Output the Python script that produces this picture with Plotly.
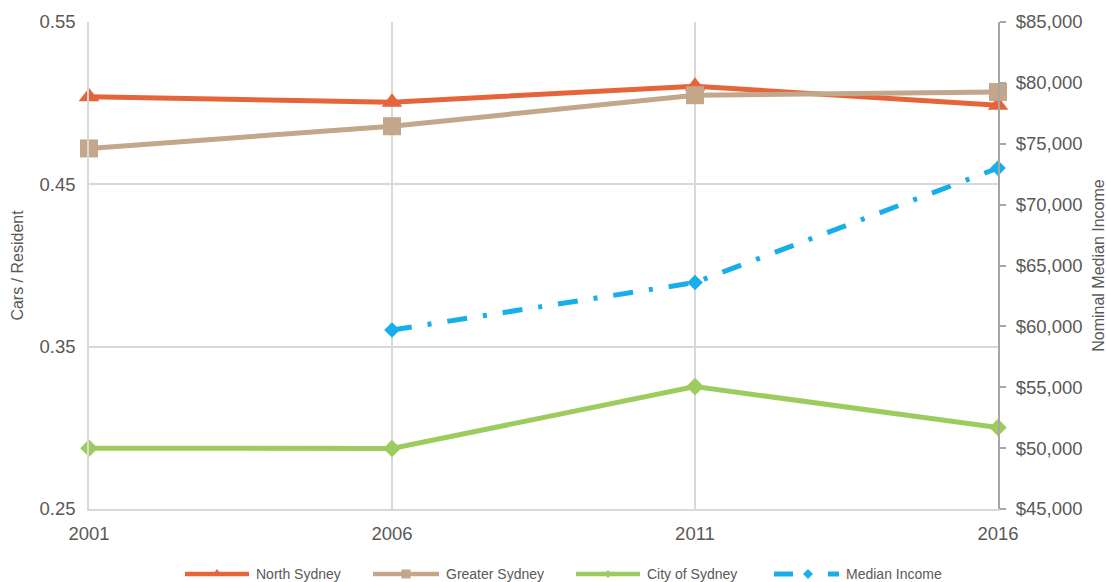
import plotly.graph_objects as go

# Census years
years = [2001, 2006, 2011, 2016]

# Cars per resident
north_sydney = [0.504, 0.5006, 0.5104, 0.4987]
greater_sydney = [0.4721, 0.4858, 0.5049, 0.5069]
city_of_sydney = [0.2875, 0.2873, 0.3254, 0.3002]

# Nominal median income (no figure for 2001)
median_income = [None, 59700, 63600, 73000]

left_ticks = [0.25, 0.35, 0.45, 0.55]
right_ticks = [45000, 50000, 55000, 60000, 65000, 70000, 75000, 80000, 85000]
right_labels = ["${:,}".format(v) for v in right_ticks]

series_names = ["North Sydney", "Greater Sydney", "City of Sydney", "Median Income"]

C_NORTH = "#E5643A"
C_GREATER = "#C4A68B"
C_CITY = "#9DCB5E"
C_INCOME = "#18AEEA"
TXT = "#595959"
FONT = "Arial, Liberation Sans, sans-serif"

W, H = 1107, 582
ML, MR, MT, MB = 89, 109, 22, 73
PW, PH = W - ML - MR, H - MT - MB


def px_x(px):
    return (px - ML) / PW


def px_y(py):
    return (H - MB - py) / PH


fig = go.Figure()

fig.add_trace(go.Scatter(
    x=years, y=north_sydney, name=series_names[0], mode="lines+markers",
    line=dict(color=C_NORTH, width=5), cliponaxis=False,
    marker=dict(symbol="triangle-up", size=18, color=C_NORTH),
))
fig.add_trace(go.Scatter(
    x=years, y=greater_sydney, name=series_names[1], mode="lines+markers",
    line=dict(color=C_GREATER, width=5), cliponaxis=False,
    marker=dict(symbol="square", size=18, color=C_GREATER),
))
fig.add_trace(go.Scatter(
    x=years, y=city_of_sydney, name=series_names[2], mode="lines+markers",
    line=dict(color=C_CITY, width=5), cliponaxis=False,
    marker=dict(symbol="diamond", size=13.5, color=C_CITY),
))
fig.add_trace(go.Scatter(
    x=years, y=median_income, name=series_names[3], mode="lines+markers",
    yaxis="y2", connectgaps=False, cliponaxis=False,
    line=dict(color=C_INCOME, width=5, dash="20px,16px,4px,16px"),
    marker=dict(symbol="diamond", size=12, color=C_INCOME),
))

# Legend row along the bottom: line sample, small marker, label
shapes = []
annotations = []
LEG_Y = 574
legend_items = [
    (series_names[0], C_NORTH, 185, 249, "triangle"),
    (series_names[1], C_GREATER, 373, 439, "square"),
    (series_names[2], C_CITY, 576, 640, "diamond"),
    (series_names[3], C_INCOME, 774, 839, "dashed"),
]
marker_paths = {
    "triangle": "M-5,-2 L5,-2 L0,5 Z",
    "square": "M-4.5,-4.5 L4.5,-4.5 L4.5,4.5 L-4.5,4.5 Z",
    "diamond": "M0,-4 L4,0 L0,4 L-4,0 Z",
    "dashed": "M0,-5 L5,0 L0,5 L-5,0 Z",
}
for name, color, x0, x1, kind in legend_items:
    mid = (x0 + x1) / 2
    if kind == "dashed":
        for a, b in [(x0, x0 + 19), (x1 - 11, x1)]:
            shapes.append(dict(type="line", xref="paper", yref="paper",
                               x0=px_x(a), x1=px_x(b), y0=px_y(LEG_Y), y1=px_y(LEG_Y),
                               line=dict(color=color, width=5)))
        mid = 808
    else:
        shapes.append(dict(type="line", xref="paper", yref="paper",
                           x0=px_x(x0), x1=px_x(x1), y0=px_y(LEG_Y), y1=px_y(LEG_Y),
                           line=dict(color=color, width=4.5)))
    shapes.append(dict(type="path", xref="paper", yref="paper",
                       xsizemode="pixel", ysizemode="pixel",
                       xanchor=px_x(mid), yanchor=px_y(LEG_Y),
                       path=marker_paths[kind], fillcolor=color,
                       line=dict(width=0)))
    annotations.append(dict(text=name, xref="paper", yref="paper",
                            x=px_x(x1 + 5), y=px_y(LEG_Y), xanchor="left",
                            yanchor="middle", showarrow=False,
                            font=dict(size=14, color=TXT, family=FONT)))

fig.update_layout(
    width=W, height=H,
    margin=dict(l=ML, r=MR, t=MT, b=MB),
    paper_bgcolor="white", plot_bgcolor="white",
    font=dict(family=FONT, color=TXT),
    showlegend=False,
    shapes=shapes,
    annotations=annotations,
    xaxis=dict(
        range=[2001, 2016], tickvals=years, ticktext=[str(y) for y in years],
        showgrid=True, gridcolor="#D9D9D9", gridwidth=1.5,
        showline=True, linecolor="#D9D9D9", linewidth=1.5,
        zeroline=False, ticks="", ticklabelstandoff=7, automargin=False,
        tickfont=dict(size=18.5, color=TXT),
    ),
    yaxis=dict(
        range=[0.25, 0.55], tickvals=left_ticks,
        ticktext=["{:.2f}".format(v) for v in left_ticks],
        showgrid=True, gridcolor="#D9D9D9", gridwidth=1.5,
        showline=True, linecolor="#D9D9D9", linewidth=1.5,
        zeroline=False, ticks="", ticklabelstandoff=8, automargin=False,
        tickfont=dict(size=18.5, color=TXT),
        title=dict(text="Cars / Resident", font=dict(size=16, color=TXT), standoff=12),
    ),
    yaxis2=dict(
        overlaying="y", side="right", range=[45000, 85000],
        tickvals=right_ticks, ticktext=right_labels,
        showgrid=False, zeroline=False, automargin=False,
        showline=True, linecolor="#A6A6A6", linewidth=2,
        ticks="outside", ticklen=6, tickwidth=1.5, tickcolor="#A6A6A6",
        ticklabelstandoff=6,
        tickfont=dict(size=18.5, color=TXT),
        title=dict(text="Nominal Median Income", font=dict(size=16, color=TXT), standoff=12),
    ),
)

fig.write_html("out.html")
